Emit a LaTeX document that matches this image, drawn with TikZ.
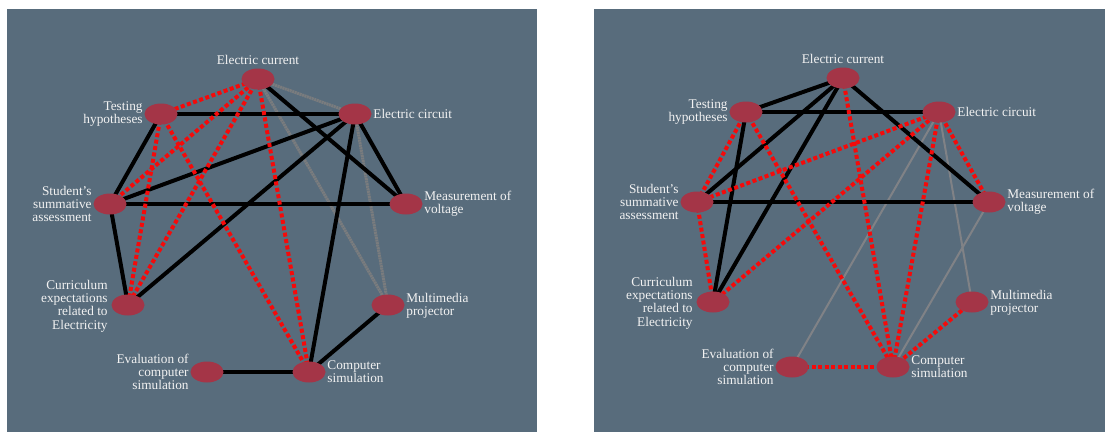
\documentclass[tikz,border=0pt]{standalone}
\usepackage{fontspec}
\setmainfont{Liberation Serif}
\newfontfamily\labelfont{Liberation Serif}
\usetikzlibrary{shapes.geometric}
\pgfdeclarelayer{back}
\pgfdeclarelayer{edges}
\pgfsetlayers{back,edges,main}

\definecolor{panelbg}{RGB}{88,108,124}
\definecolor{nodefill}{RGB}{164,53,71}
\definecolor{redlink}{RGB}{245,10,10}
\definecolor{graylink}{RGB}{128,130,134}
\definecolor{graydot}{RGB}{122,124,126}
\definecolor{labeltext}{RGB}{242,242,242}

\tikzset{
  concept/.style={ellipse, fill=nodefill, minimum width=33pt, minimum height=21pt, inner sep=0pt},
  lbl/.style={text=labeltext, inner sep=1.5pt,
    font=\labelfont\fontsize{13.3pt}{13.3pt}\selectfont},
  lblL/.style={lbl, anchor=east, align=right},
  lblR/.style={lbl, anchor=west, align=left},
  strong/.style={line width=4pt, black},
  dotred/.style={line width=4pt, redlink, dash pattern=on 4pt off 2.5pt},
  weakdot/.style={line width=3pt, graydot, dash pattern=on 2pt off 0.6pt},
  weakthin/.style={line width=2pt, graylink},
}

\begin{document}
\begin{tikzpicture}[x=1pt, y=-1pt]
\useasboundingbox (0,0) rectangle (1106,432);

\begin{pgfonlayer}{back}
  \fill[panelbg] (7,9) rectangle (537,432);
  \fill[panelbg] (594,9) rectangle (1105,432);
\end{pgfonlayer}

% ---------- first network ----------
\node[concept] (LEC)  at (258,79)  {};
\node[concept] (LTH)  at (161,114) {};
\node[concept] (LECi) at (355,114) {};
\node[concept] (LSS)  at (110,204) {};
\node[concept] (LMV)  at (406,204) {};
\node[concept] (LCE)  at (128,305) {};
\node[concept] (LMP)  at (388,305) {};
\node[concept] (LEV)  at (207,372) {};
\node[concept] (LCS)  at (309,372) {};

\node[lbl, anchor=south, yshift=2pt] (tLEC) at (LEC.north) {Electric current};
\node[lblL] (tLTH)  at (LTH.west)  {Testing\\hypotheses};
\node[lblR] (tLECi) at (LECi.east) {Electric circuit};
\node[lblL] (tLSS)  at (LSS.west)  {Student’s\\summative\\assessment};
\node[lblR] (tLMV)  at (LMV.east)  {Measurement of\\voltage};
\node[lblL, xshift=-2pt, yshift=-1pt] (tLCE) at (LCE.west) {Curriculum\\expectations\\related to\\Electricity};
\node[lblR, yshift=-1pt] (tLMP) at (LMP.east) {Multimedia\\projector};
\node[lblL] (tLEV)  at (LEV.west)  {Evaluation of\\computer\\simulation};
\node[lblR] (tLCS)  at (LCS.east)  {Computer\\simulation};

\begin{pgfonlayer}{edges}
  \draw[weakdot] (LEC.center) -- (LECi.center);
  \draw[weakdot] (LEC.center) -- (LMP.center);
  \draw[weakdot] (LECi.center) -- (LMP.center);

  \draw[strong] (LTH.center) -- (LECi.center);
  \draw[strong] (LEC.center) -- (LMV.center);
  \draw[strong] (LECi.center) -- (LMV.center);
  \draw[strong] (LECi.center) -- (LSS.center);
  \draw[strong] (LECi.center) -- (LCE.center);
  \draw[strong] (LECi.center) -- (LCS.center);
  \draw[strong] (LTH.center) -- (LSS.center);
  \draw[strong] (LSS.center) -- (LMV.center);
  \draw[strong] (LSS.center) -- (LCE.center);
  \draw[strong] (LMP.center) -- (LCS.center);
  \draw[strong] (LEV.center) -- (LCS.center);

  \draw[dotred] (LEC.center) -- (LTH.center);
  \draw[dotred] (LEC.center) -- (LSS.center);
  \draw[dotred] (LEC.center) -- (LCE.center);
  \draw[dotred] (LEC.center) -- (LCS.center);
  \draw[dotred] (LTH.center) -- (LCE.center);
  \draw[dotred] (LTH.center) -- (LCS.center);
\end{pgfonlayer}

% ---------- second network ----------
\node[concept] (REC)  at (843,78)  {};
\node[concept] (RTH)  at (746,112) {};
\node[concept] (RECi) at (939,112) {};
\node[concept] (RSS)  at (697,202) {};
\node[concept] (RMV)  at (989,202) {};
\node[concept] (RCE)  at (713,302) {};
\node[concept] (RMP)  at (972,302) {};
\node[concept] (REV)  at (792,367) {};
\node[concept] (RCS)  at (893,367) {};

\node[lbl, anchor=south, yshift=2pt] (tREC) at (REC.north) {Electric current};
\node[lblL] (tRTH)  at (RTH.west)  {Testing\\hypotheses};
\node[lblR] (tRECi) at (RECi.east) {Electric circuit};
\node[lblL] (tRSS)  at (RSS.west)  {Student’s\\summative\\assessment};
\node[lblR] (tRMV)  at (RMV.east)  {Measurement of\\voltage};
\node[lblL, xshift=-2pt, yshift=-1pt] (tRCE) at (RCE.west) {Curriculum\\expectations\\related to\\Electricity};
\node[lblR, yshift=-1pt] (tRMP) at (RMP.east) {Multimedia\\projector};
\node[lblL] (tREV)  at (REV.west)  {Evaluation of\\computer\\simulation};
\node[lblR] (tRCS)  at (RCS.east)  {Computer\\simulation};

\begin{pgfonlayer}{edges}
  \draw[weakthin] (RECi.center) -- (REV.center);
  \draw[weakthin] (RECi.center) -- (RMP.center);
  \draw[weakthin] (RMV.center) -- (RCS.center);

  \draw[strong] (REC.center) -- (RTH.center);
  \draw[strong] (REC.center) -- (RSS.center);
  \draw[strong] (REC.center) -- (RCE.center);
  \draw[strong] (RTH.center) -- (RCE.center);
  \draw[strong] (RTH.center) -- (RECi.center);
  \draw[strong] (REC.center) -- (RMV.center);
  \draw[strong] (RSS.center) -- (RMV.center);

  \draw[dotred] (RTH.center) -- (RSS.center);
  \draw[dotred] (RTH.center) -- (RCS.center);
  \draw[dotred] (REC.center) -- (RCS.center);
  \draw[dotred] (RECi.center) -- (RSS.center);
  \draw[dotred] (RECi.center) -- (RCE.center);
  \draw[dotred] (RECi.center) -- (RCS.center);
  \draw[dotred] (RECi.center) -- (RMV.center);
  \draw[dotred] (RSS.center) -- (RCE.center);
  \draw[dotred] (RMP.center) -- (RCS.center);
  \draw[dotred] (REV.center) -- (RCS.center);
\end{pgfonlayer}
\end{tikzpicture}
\end{document}
